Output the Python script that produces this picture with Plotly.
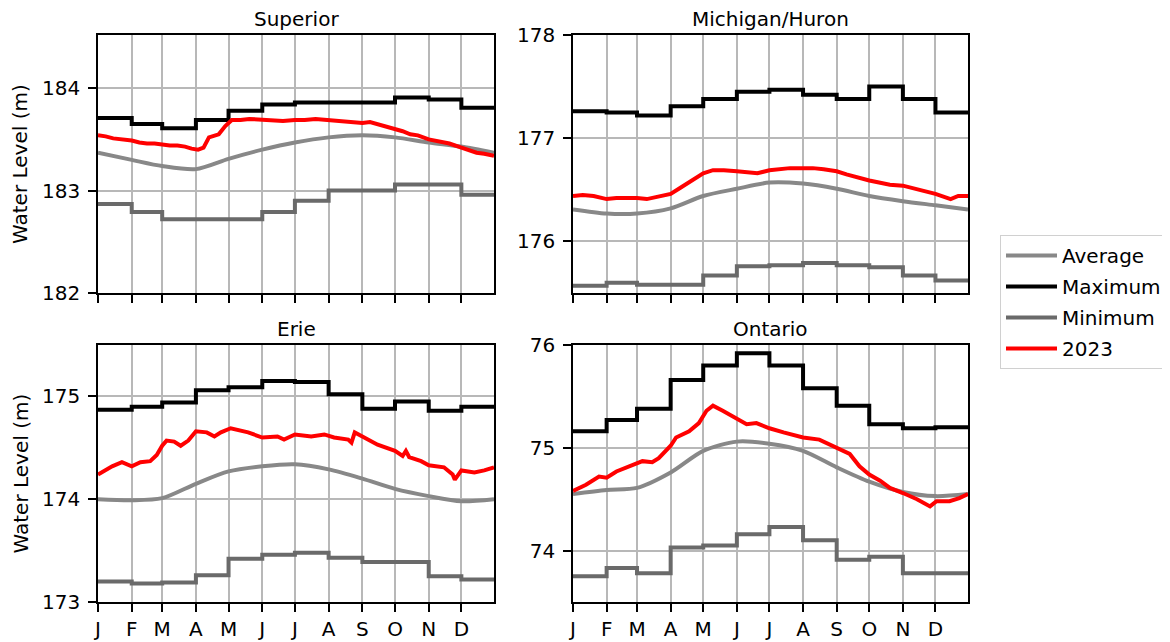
import plotly.graph_objects as go

# ---------------- data ----------------
month_letters = ["J", "F", "M", "A", "M", "J", "J", "A", "S", "O", "N", "D"]
month_starts = ["2023-01-01", "2023-02-01", "2023-03-01", "2023-04-01", "2023-05-01", "2023-06-01",
                "2023-07-01", "2023-08-01", "2023-09-01", "2023-10-01", "2023-11-01", "2023-12-01"]
year_end = "2023-12-31"

# Lake Superior
sup_max = [183.71, 183.65, 183.61, 183.69, 183.78, 183.84, 183.86, 183.86, 183.86, 183.91, 183.89, 183.81]
sup_min = [182.87, 182.79, 182.72, 182.72, 182.72, 182.79, 182.90, 183.00, 183.00, 183.06, 183.06, 182.96]
sup_avg = [183.37, 183.30, 183.24, 183.21, 183.31, 183.40, 183.47, 183.52, 183.54, 183.52, 183.47, 183.43, 183.37]
sup_2023_dates = ["01-01", "01-08", "01-15", "01-22", "02-01", "02-08", "02-15", "02-22", "03-01", "03-08",
                  "03-15", "03-22", "03-28", "04-03", "04-08", "04-13", "04-22", "04-28", "05-04", "05-12",
                  "05-20", "06-01", "06-10", "06-20", "07-01", "07-10", "07-20", "08-01", "08-10", "08-20",
                  "09-01", "09-08", "09-15", "09-22", "10-01", "10-08", "10-15", "10-22", "11-01", "11-10",
                  "11-20", "12-01", "12-08", "12-15", "12-22", "12-31"]
sup_2023 = [183.54, 183.53, 183.51, 183.50, 183.49, 183.47, 183.46, 183.46, 183.45, 183.44,
            183.44, 183.43, 183.41, 183.40, 183.42, 183.52, 183.55, 183.63, 183.69, 183.69,
            183.70, 183.69, 183.68, 183.68, 183.69, 183.69, 183.70, 183.69, 183.68, 183.67,
            183.66, 183.67, 183.65, 183.62, 183.60, 183.58, 183.55, 183.54, 183.50, 183.48,
            183.46, 183.42, 183.39, 183.37, 183.36, 183.34]

# Lake Michigan/Huron
mh_max = [177.26, 177.25, 177.22, 177.31, 177.38, 177.45, 177.47, 177.42, 177.38, 177.50, 177.38, 177.25]
mh_min = [175.57, 175.60, 175.58, 175.58, 175.67, 175.76, 175.77, 175.79, 175.77, 175.75, 175.67, 175.62]
mh_avg = [176.31, 176.27, 176.27, 176.32, 176.44, 176.51, 176.57, 176.56, 176.51, 176.44, 176.39, 176.35, 176.31]
mh_2023_dates = ["01-01", "01-10", "01-20", "02-01", "02-10", "02-20", "03-01", "03-10", "03-20", "04-01",
                 "04-10", "04-20", "05-01", "05-10", "05-20", "06-01", "06-10", "06-20", "07-01", "07-10",
                 "07-20", "08-01", "08-10", "08-20", "09-01", "09-10", "09-20", "10-01", "10-10", "10-20",
                 "11-01", "11-10", "11-20", "12-01", "12-10", "12-15", "12-22", "12-31"]
mh_2023 = [176.44, 176.45, 176.44, 176.41, 176.42, 176.42, 176.42, 176.41, 176.43, 176.46,
           176.52, 176.59, 176.66, 176.69, 176.69, 176.68, 176.67, 176.66, 176.69, 176.70,
           176.71, 176.71, 176.71, 176.70, 176.68, 176.65, 176.62, 176.59, 176.57, 176.55,
           176.54, 176.52, 176.49, 176.46, 176.43, 176.41, 176.44, 176.44]

# Lake Erie
erie_max = [174.87, 174.90, 174.94, 175.06, 175.09, 175.15, 175.14, 175.02, 174.88, 174.95, 174.86, 174.90]
erie_min = [173.20, 173.18, 173.19, 173.26, 173.42, 173.46, 173.48, 173.43, 173.39, 173.39, 173.25, 173.22]
erie_avg = [174.00, 173.99, 174.01, 174.15, 174.27, 174.32, 174.34, 174.29, 174.20, 174.10, 174.03, 173.98, 174.00]
erie_2023_dates = ["01-01", "01-14", "01-23", "02-01", "02-09", "02-18", "02-24", "03-01", "03-05", "03-12",
                   "03-18", "03-25", "04-01", "04-11", "04-18", "04-24", "05-03", "05-19", "06-01", "06-15",
                   "06-21", "07-01", "07-16", "07-28", "08-06", "08-19", "08-22", "08-25", "09-01", "09-15",
                   "10-01", "10-08", "10-11", "10-14", "10-25", "11-01", "11-15", "11-23", "11-25", "12-01",
                   "12-13", "12-22", "12-31"]
erie_2023 = [174.24, 174.32, 174.36, 174.32, 174.36, 174.37, 174.43, 174.52, 174.57, 174.56,
             174.52, 174.57, 174.66, 174.65, 174.61, 174.65, 174.69, 174.65, 174.60, 174.61,
             174.58, 174.63, 174.61, 174.63, 174.60, 174.58, 174.55, 174.65, 174.61, 174.53,
             174.47, 174.42, 174.47, 174.41, 174.37, 174.33, 174.31, 174.24, 174.19, 174.28,
             174.26, 174.28, 174.31]

# Lake Ontario
ont_max = [75.16, 75.27, 75.38, 75.66, 75.80, 75.92, 75.80, 75.58, 75.41, 75.23, 75.19, 75.20]
ont_min = [73.75, 73.83, 73.78, 74.03, 74.05, 74.16, 74.23, 74.10, 73.91, 73.94, 73.78, 73.78]
ont_avg = [74.55, 74.59, 74.61, 74.76, 74.97, 75.06, 75.04, 74.97, 74.81, 74.67, 74.57, 74.53, 74.55]
ont_2023_dates = ["01-01", "01-13", "01-25", "02-01", "02-10", "02-22", "03-01", "03-06", "03-15", "03-21",
                  "04-01", "04-06", "04-18", "04-27", "05-04", "05-10", "05-19", "06-01", "06-10", "06-19",
                  "07-01", "07-14", "07-26", "08-01", "08-16", "09-01", "09-13", "09-22", "10-01", "10-11",
                  "10-20", "11-01", "11-14", "11-26", "12-02", "12-14", "12-23", "12-31"]
ont_2023 = [74.58, 74.64, 74.72, 74.71, 74.77, 74.82, 74.85, 74.87, 74.86, 74.90,
            75.02, 75.10, 75.16, 75.24, 75.36, 75.41, 75.36, 75.28, 75.23, 75.24,
            75.19, 75.15, 75.12, 75.10, 75.08, 75.00, 74.94, 74.82, 74.74, 74.68,
            74.61, 74.56, 74.50, 74.43, 74.48, 74.48, 74.51, 74.55]

lakes = [
    ("Superior", sup_max, sup_min, sup_avg, sup_2023_dates, sup_2023, [182, 184.52]),
    ("Michigan/Huron", mh_max, mh_min, mh_avg, mh_2023_dates, mh_2023, [175.5, 178]),
    ("Erie", erie_max, erie_min, erie_avg, erie_2023_dates, erie_2023, [173, 175.5]),
    ("Ontario", ont_max, ont_min, ont_avg, ont_2023_dates, ont_2023, [73.5, 76]),
]

# ---------------- layout geometry (pixels; page has an 8px body margin) ----------------
OFF = 8
W, H = 1170 - OFF, 642 - OFF
col_px = [(98 - OFF, 494 - OFF), (573 - OFF, 968 - OFF)]
row_px = [(35 - OFF, 293 - OFF), (345 - OFF, 602 - OFF)]

AVG_C = "#888888"
MAX_C = "#000000"
MIN_C = "#6a6a6a"
RED_C = "#ff0000"
FONT = "DejaVu Sans"

fig = go.Figure()
annotations = []

for i, (name, mx, mn, avg, rdates, rvals, yr) in enumerate(lakes):
    r, c = divmod(i, 2)
    ax = "" if i == 0 else str(i + 1)
    xref, yref = "x" + ax, "y" + ax
    step_x = month_starts + [year_end]
    avg_x = month_starts + [year_end]
    show = i == 0
    fig.add_trace(go.Scatter(x=avg_x, y=avg, mode="lines", line=dict(color=AVG_C, width=4, shape="spline", smoothing=0.8),
                             name="Average", showlegend=show, legendgroup="a", xaxis=xref, yaxis=yref))
    fig.add_trace(go.Scatter(x=step_x, y=mx + [mx[-1]], mode="lines", line=dict(color=MAX_C, width=4, shape="hv"),
                             name="Maximum", showlegend=show, legendgroup="b", xaxis=xref, yaxis=yref))
    fig.add_trace(go.Scatter(x=step_x, y=mn + [mn[-1]], mode="lines", line=dict(color=MIN_C, width=4, shape="hv"),
                             name="Minimum", showlegend=show, legendgroup="c", xaxis=xref, yaxis=yref))
    fig.add_trace(go.Scatter(x=["2023-" + d for d in rdates], y=rvals, mode="lines",
                             line=dict(color=RED_C, width=4),
                             name="2023", showlegend=show, legendgroup="d", xaxis=xref, yaxis=yref))

    x0, x1 = col_px[c]
    y0, y1 = row_px[r]
    xdom = [x0 / W, x1 / W]
    ydom = [1 - y1 / H, 1 - y0 / H]
    common = dict(showline=True, mirror=True, linecolor="black", linewidth=1.5,
                  showgrid=True, gridcolor="#b8b8b8", gridwidth=1.6,
                  ticks="outside", ticklen=8, tickwidth=1.5, tickcolor="black",
                  tickfont=dict(family=FONT, size=20, color="black"), zeroline=False,
                  automargin=False)
    fig.layout["xaxis" + ax] = dict(domain=xdom, anchor=yref, type="date",
                                    range=["2023-01-01", year_end],
                                    tickmode="array", tickvals=month_starts, ticktext=month_letters,
                                    showticklabels=(r == 1), **common)
    fig.layout["yaxis" + ax] = dict(domain=ydom, anchor=xref, range=yr, tickmode="linear", tick0=0, dtick=1,
                                    ticklabelstandoff=4, **common)
    annotations.append(dict(text=name, x=(x0 + x1) / 2 / W, y=1 - (y0 - 3) / H, xref="paper", yref="paper",
                            xanchor="center", yanchor="bottom", showarrow=False, borderpad=0,
                            font=dict(family=FONT, size=20, color="black")))
    if c == 0:
        annotations.append(dict(text="Water Level (m)", x=(20 - OFF) / W, y=1 - (y0 + y1) / 2 / H,
                                xref="paper", yref="paper", borderpad=0,
                                xanchor="center", yanchor="middle", textangle=-90, showarrow=False,
                                font=dict(family=FONT, size=20, color="black")))

fig.update_layout(
    width=W, height=H,
    margin=dict(l=0, r=0, t=0, b=0, autoexpand=False),
    paper_bgcolor="white", plot_bgcolor="white",
    font=dict(family=FONT, size=20, color="black"),
    annotations=annotations,
    legend=dict(x=(1000 - OFF) / W, y=1 - (235 - OFF) / H, xanchor="left", yanchor="top",
                bordercolor="#d0d0d0", borderwidth=1, bgcolor="white",
                font=dict(family=FONT, size=20, color="black"),
                tracegroupgap=2, itemwidth=51),
)

fig.write_html("out.html")
